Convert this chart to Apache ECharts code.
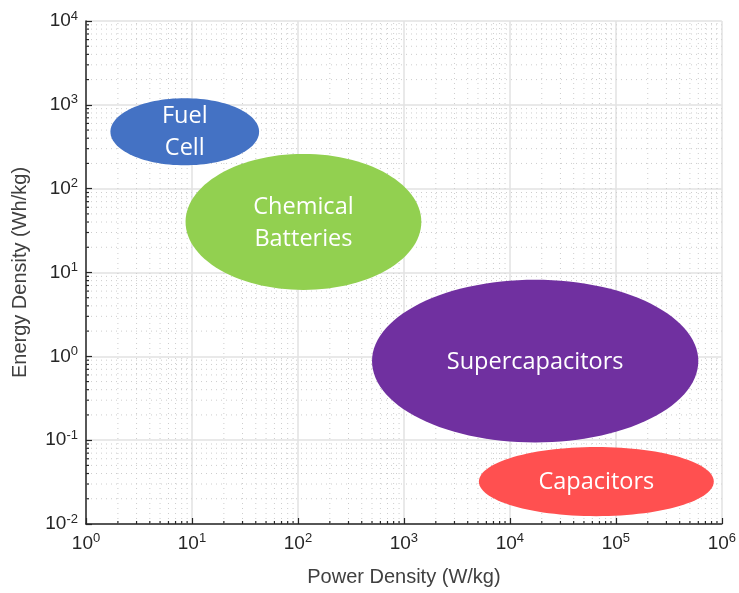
<!DOCTYPE html>
<html>
<head>
<meta charset="utf-8">
<style>
  html, body { margin: 0; padding: 0; background: #fff; }
  #chart { width: 739px; height: 593px; }
</style>
<script src="https://cdn.jsdelivr.net/npm/echarts@6/dist/echarts.min.js"></script>
</head>
<body>
<div id="chart"></div>
<script>
// Ragone plot: each storage technology is a region bounded in power / energy density
const technologies = ['Fuel Cell', 'Chemical Batteries', 'Supercapacitors', 'Capacitors'];
const regionLabels = ['Fuel\nCell', 'Chemical\nBatteries', 'Supercapacitors', 'Capacitors'];
const powerMin  = [1.7, 8.7, 500, 5100];        // W/kg
const powerMax  = [43, 1460, 600000, 840000];   // W/kg
const energyMin = [190, 6.2, 0.094, 0.0124];    // Wh/kg
const energyMax = [1200, 260, 8.2, 0.083];      // Wh/kg
const regionColors = ['#4472C4', '#92D050', '#7030A0', '#FF5050'];

// Axis ranges (decades)
const xDecades = [0, 1, 2, 3, 4, 5, 6];
const yDecades = [-2, -1, 0, 1, 2, 3, 4];
const minorSteps = [2, 3, 4, 5, 6, 7, 8, 9];

const xMinor = [];
xDecades.slice(0, -1).forEach(d => minorSteps.forEach(k => xMinor.push(k * Math.pow(10, d))));
const yMinor = [];
yDecades.slice(0, -1).forEach(d => minorSteps.forEach(k => yMinor.push(k * Math.pow(10, d))));

const X_MIN = Math.pow(10, xDecades[0]), X_MAX = Math.pow(10, xDecades[xDecades.length - 1]);
const Y_MIN = Math.pow(10, yDecades[0]), Y_MAX = Math.pow(10, yDecades[yDecades.length - 1]);

const regionData = technologies.map((n, i) => [powerMin[i], powerMax[i], energyMin[i], energyMax[i], i]);

const SANS = '"Liberation Sans", Arial, sans-serif';

function powerLabel(v) {
  const e = Math.round(Math.log10(v));
  return '{b|10}{e|' + e + '}';
}
const richLabel = {
  b: { fontSize: 19, fontFamily: SANS, color: '#262626' },
  e: { fontSize: 13, fontFamily: SANS, color: '#262626', padding: [0, 0, 10, 0] }
};

const chart = echarts.init(document.getElementById('chart'), null, { renderer: 'canvas' });

const option = {
  animation: false,
  backgroundColor: '#ffffff',
  grid: { left: 86, right: 14, top: 21, bottom: 69, containLabel: false },
  xAxis: {
    type: 'log', logBase: 10, min: X_MIN, max: X_MAX, splitNumber: 6,
    name: 'Power Density (W/kg)', nameLocation: 'middle', nameGap: 43,
    nameTextStyle: { fontSize: 20, fontFamily: SANS, color: '#404040' },
    axisLine: { show: true, lineStyle: { color: '#262626', width: 1.5 } },
    axisTick: { show: true, inside: true, length: 6, lineStyle: { color: '#262626', width: 1.2 } },
    axisLabel: { formatter: powerLabel, rich: richLabel, margin: 8 },
    splitLine: { show: true, lineStyle: { color: '#e2e2e2', width: 1.5 } },
    minorTick: { show: false }, minorSplitLine: { show: false }
  },
  yAxis: {
    type: 'log', logBase: 10, min: Y_MIN, max: Y_MAX, splitNumber: 6,
    name: 'Energy Density (Wh/kg)', nameLocation: 'middle', nameGap: 56,
    nameTextStyle: { fontSize: 20, fontFamily: SANS, color: '#404040' },
    axisLine: { show: true, lineStyle: { color: '#262626', width: 1.5 } },
    axisTick: { show: true, inside: true, length: 6, lineStyle: { color: '#262626', width: 1.2 } },
    axisLabel: { formatter: powerLabel, rich: richLabel, margin: 8 },
    splitLine: { show: true, lineStyle: { color: '#e2e2e2', width: 1.5 } },
    minorTick: { show: false }, minorSplitLine: { show: false }
  },
  series: [
    {
      // dotted minor grid and minor ticks along the power axis
      type: 'custom', z: 1, silent: true,
      data: xMinor.map(v => [v, Y_MIN]),
      encode: { x: 0, y: 1 },
      renderItem: function (params, api) {
        const v = api.value(0);
        const pb = api.coord([v, Y_MIN]);
        const pt = api.coord([v, Y_MAX]);
        return {
          type: 'group',
          children: [
            { type: 'line', shape: { x1: pb[0], y1: pb[1], x2: pt[0], y2: pt[1] },
              style: { stroke: '#cdcdcd', lineWidth: 1, lineDash: [1, 4] } },
            { type: 'line', shape: { x1: pb[0], y1: pb[1], x2: pb[0], y2: pb[1] - 3 },
              style: { stroke: '#262626', lineWidth: 1.2 } }
          ]
        };
      }
    },
    {
      // dotted minor grid and minor ticks along the energy axis
      type: 'custom', z: 1, silent: true,
      data: yMinor.map(v => [X_MIN, v]),
      encode: { x: 0, y: 1 },
      renderItem: function (params, api) {
        const v = api.value(1);
        const pl = api.coord([X_MIN, v]);
        const pr = api.coord([X_MAX, v]);
        return {
          type: 'group',
          children: [
            { type: 'line', shape: { x1: pl[0], y1: pl[1], x2: pr[0], y2: pr[1] },
              style: { stroke: '#cdcdcd', lineWidth: 1, lineDash: [1, 4] } },
            { type: 'line', shape: { x1: pl[0], y1: pl[1], x2: pl[0] + 3, y2: pl[1] },
              style: { stroke: '#262626', lineWidth: 1.2 } }
          ]
        };
      }
    },
    {
      // technology regions, elliptical on the log-log scale
      type: 'custom', z: 5,
      data: regionData,
      encode: { x: [0, 1], y: [2, 3] },
      renderItem: function (params, api) {
        const i = api.value(4);
        const tl = api.coord([api.value(0), api.value(3)]);
        const br = api.coord([api.value(1), api.value(2)]);
        const cx = (tl[0] + br[0]) / 2, cy = (tl[1] + br[1]) / 2;
        const rx = Math.abs(br[0] - tl[0]) / 2, ry = Math.abs(br[1] - tl[1]) / 2;
        const pts = [];
        for (let k = 0; k < 120; k++) {
          const t = (k / 120) * Math.PI * 2;
          pts.push([cx + rx * Math.cos(t), cy + ry * Math.sin(t)]);
        }
        return {
          type: 'group',
          children: [
            { type: 'polygon', shape: { points: pts }, style: { fill: regionColors[i], stroke: null } },
            { type: 'text', x: cx, y: cy + 1,
              style: { text: regionLabels[i], fill: '#ffffff', font: '23.5px "Open Sans", sans-serif',
                       align: 'center', verticalAlign: 'middle', lineHeight: 32 } }
          ]
        };
      }
    }
  ]
};

chart.setOption(option);
</script>
</body>
</html>
